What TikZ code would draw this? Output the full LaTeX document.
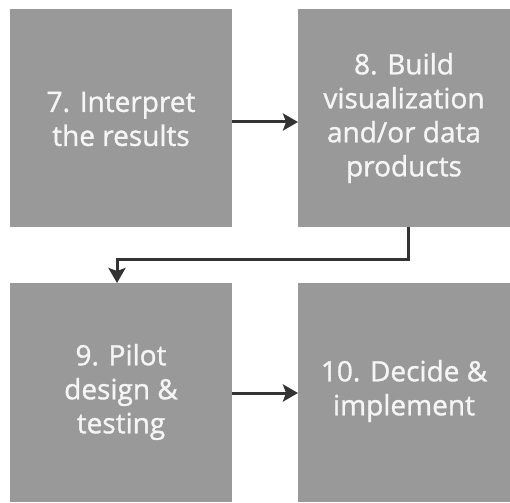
\documentclass[tikz,border=0pt]{standalone}
\usepackage{fontspec}
\setmainfont{Open Sans}
\newfontfamily\labelfont{Open Sans}[FakeBold=1.2]
\usetikzlibrary{arrows.meta}
\definecolor{boxgray}{RGB}{153,153,153}
\definecolor{linkgray}{RGB}{51,51,51}
\definecolor{labelwhite}{RGB}{245,245,245}
\begin{document}
\begin{tikzpicture}[x=1pt,y=-1pt,
  stepbox/.style={fill=boxgray,draw=none},
  steplabel/.style={text=labelwhite,align=center,
    font=\labelfont\fontsize{28}{34}\selectfont},
  link/.style={draw=linkgray,line width=3pt,
    -{Stealth[length=15pt,width=17pt,inset=3pt]}}]
  \useasboundingbox[fill=white] (0,0) rectangle (510,502);
  % four process boxes
  \path[stepbox] (10,9) rectangle (232,227);
  \path[stepbox] (298,9) rectangle (510,227);
  \path[stepbox] (10,283) rectangle (232,502);
  \path[stepbox] (298,283) rectangle (510,502);
  % box anchors
  \coordinate (b7e) at (232,122);
  \coordinate (b8w) at (298,122);
  \coordinate (b8s) at (408,227);
  \coordinate (b9n) at (117,283);
  \coordinate (b9e) at (232,393);
  \coordinate (b10w) at (298,393);
  % labels
  \node[steplabel] (t7) at (121,119) {7. Interpret\\the results};
  \node[steplabel] (t8) at (404,118) {8. Build\\visualization\\and/or data\\products};
  \node[steplabel] (t9) at (121,392) {9. Pilot\\design \&\\testing};
  \node[steplabel] (t10) at (404,391) {10. Decide \&\\implement};
  % connectors
  \draw[link] (b7e) -- (b8w);
  \draw[link] (b8s) -- (408,259) -| (b9n);
  \draw[link] (b9e) -- (b10w);
\end{tikzpicture}
\end{document}
